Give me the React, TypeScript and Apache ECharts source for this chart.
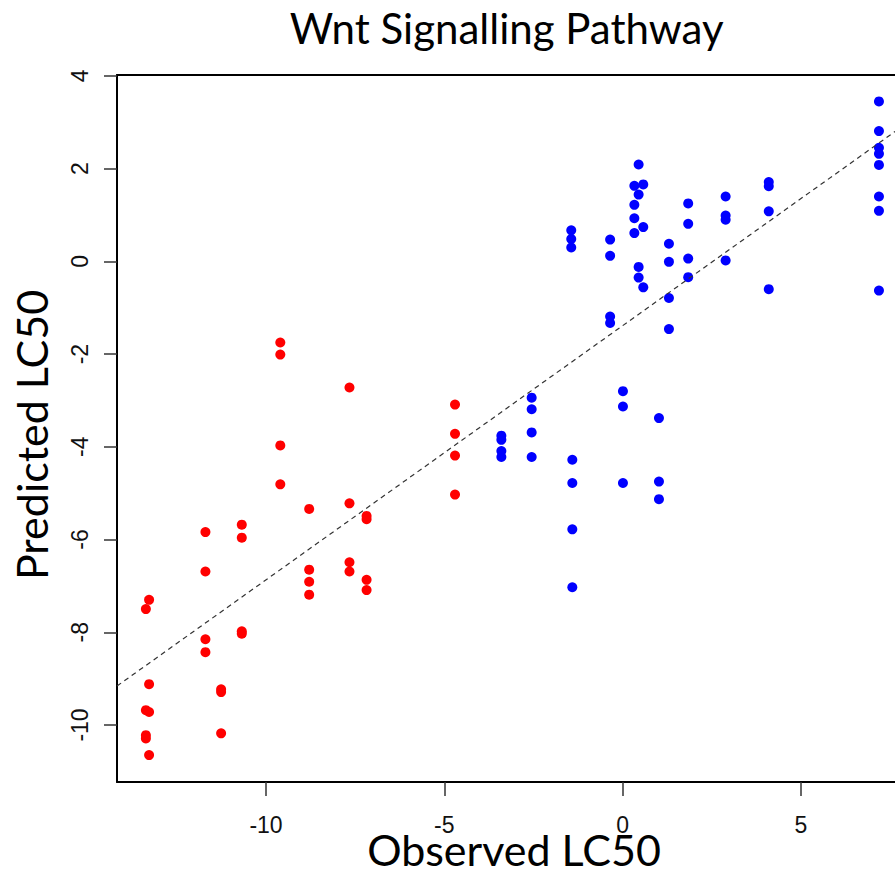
import React, { useEffect, useRef } from "react";
import * as echarts from "echarts";

// Observed (x) and predicted (y) LC50 values
const redX = [
  -13.28, -13.37, -13.28, -13.37, -13.28, -13.37, -13.37, -13.28,
  -11.70, -11.70, -11.70, -11.70,
  -11.26, -11.26, -11.26,
  -10.68, -10.68, -10.68, -10.68,
  -9.60, -9.60, -9.60, -9.60,
  -8.79, -8.79, -8.79, -8.79,
  -7.66, -7.66, -7.66, -7.66,
  -7.18, -7.18, -7.18, -7.18,
  -4.70, -4.70, -4.70, -4.70,
];
const redY = [
  -7.30, -7.50, -9.12, -9.68, -9.72, -10.22, -10.29, -10.65,
  -5.84, -6.69, -8.15, -8.43,
  -9.23, -9.29, -10.18,
  -5.68, -5.96, -7.98, -8.03,
  -1.75, -2.01, -3.97, -4.81,
  -5.34, -6.65, -6.91, -7.19,
  -2.72, -5.22, -6.49, -6.69,
  -5.49, -5.56, -6.87, -7.09,
  -3.09, -3.72, -4.19, -5.03,
];

const blueX = [
  -3.40, -3.40, -3.40, -3.40,
  -2.55, -2.55, -2.55, -2.55,
  -1.44, -1.44, -1.44, -1.41, -1.41, -1.41, -1.41,
  -0.35, -0.35, -0.35, -0.35,
  0.01, 0.01, 0.01,
  0.45, 0.45, 0.45, 0.45,
  0.33, 0.33, 0.33, 0.33,
  0.58, 0.58, 0.58,
  1.02, 1.02, 1.02,
  1.30, 1.30, 1.30, 1.30,
  1.84, 1.84, 1.84, 1.84,
  2.89, 2.89, 2.89, 2.89,
  4.10, 4.10, 4.10, 4.10,
  7.19, 7.19, 7.19, 7.19, 7.19, 7.19, 7.19, 7.19,
];
const blueY = [
  -3.76, -3.85, -4.09, -4.22,
  -2.94, -3.19, -3.69, -4.22,
  0.67, 0.48, 0.30, -4.28, -4.78, -5.78, -7.03,
  0.47, 0.12, -1.19, -1.33,
  -2.80, -3.13, -4.78,
  2.09, 1.44, -0.12, -0.35,
  1.63, 1.22, 0.93, 0.61,
  1.66, 0.74, -0.56,
  -3.38, -4.75, -5.13,
  0.38, -0.01, -0.79, -1.46,
  1.25, 0.81, 0.06, -0.34,
  1.40, 0.99, 0.90, 0.02,
  1.71, 1.62, 1.08, -0.60,
  3.45, 2.81, 2.45, 2.32, 2.08, 1.40, 1.09, -0.63,
];

// dashed fit line end points
const fitX = [-14.18, 7.64];
const fitY = [-9.16, 2.8];

const xTicks = [-10, -5, 0, 5];
const yTicks = [-10, -8, -6, -4, -2, 0, 2, 4];

const titleText = "Wnt Signalling Pathway";
const xTitle = "Observed LC50";
const yTitle = "Predicted LC50";

const X_MIN = -14.18;
const X_MAX = 7.64;
const Y_MIN = -11.23;
const Y_MAX = 4.02;

export default function App() {
  const ref = useRef<HTMLDivElement>(null);

  useEffect(() => {
    document.body.style.margin = "0";
    if (!ref.current) return;
    const chart = echarts.init(ref.current, undefined, { renderer: "svg" });

    const pair = (xs: number[], ys: number[]) => xs.map((x, i) => [x, ys[i]]);
    const bigFont = "Lato";
    const tickFont = "Liberation Sans";

    chart.setOption({
      animation: false,
      backgroundColor: "#ffffff",
      grid: { left: 117, right: 0, top: 75, bottom: 90, containLabel: false },
      xAxis: [
        {
          type: "value",
          min: X_MIN,
          max: X_MAX,
          axisLine: { show: true, onZero: false, lineStyle: { color: "#000", width: 2 } },
          axisTick: {
            show: true,
            customValues: xTicks,
            length: 14,
            lineStyle: { color: "#333", width: 1.5 },
          },
          axisLabel: {
            show: true,
            customValues: xTicks,
            fontFamily: tickFont,
            fontSize: 23,
            color: "#111",
            margin: 31,
          },
          splitLine: { show: false },
        },
        {
          type: "value",
          position: "top",
          min: X_MIN,
          max: X_MAX,
          axisLine: { show: true, onZero: false, lineStyle: { color: "#000", width: 2 } },
          axisTick: { show: false },
          axisLabel: { show: false },
          splitLine: { show: false },
        },
      ],
      yAxis: {
        type: "value",
        min: Y_MIN,
        max: Y_MAX,
        axisLine: { show: true, onZero: false, lineStyle: { color: "#000", width: 2 } },
        axisTick: {
          show: true,
          customValues: yTicks,
          length: 13,
          lineStyle: { color: "#333", width: 1.5 },
        },
        axisLabel: {
          show: true,
          customValues: yTicks,
          rotate: 90,
          fontFamily: tickFont,
          fontSize: 23,
          color: "#111",
          margin: 26,
        },
        splitLine: { show: false },
      },
      series: [
        {
          type: "scatter",
          data: pair(redX, redY),
          symbol: "circle",
          symbolSize: 10,
          itemStyle: { color: "#ff0000", opacity: 1 },
        },
        {
          type: "scatter",
          data: pair(blueX, blueY),
          symbol: "circle",
          symbolSize: 10,
          itemStyle: { color: "#0000ff", opacity: 1 },
        },
        {
          type: "line",
          data: pair(fitX, fitY),
          showSymbol: false,
          symbol: "none",
          lineStyle: { color: "#333", width: 1.2, type: [5, 4] },
          z: 3,
        },
      ],
      graphic: [
        {
          type: "text",
          x: 506.7,
          y: 27.5,
          style: {
            text: titleText,
            fill: "#000",
            fontFamily: bigFont,
            fontSize: 42,
            lineHeight: 34,
            textAlign: "center",
            textVerticalAlign: "middle",
          },
        },
        {
          type: "text",
          x: 514,
          y: 849,
          style: {
            text: xTitle,
            fill: "#000",
            fontFamily: bigFont,
            fontSize: 43,
            lineHeight: 34,
            textAlign: "center",
            textVerticalAlign: "middle",
          },
        },
        {
          type: "text",
          x: 31.7,
          y: 435,
          rotation: Math.PI / 2,
          style: {
            text: yTitle,
            fill: "#000",
            fontFamily: bigFont,
            fontSize: 43,
            lineHeight: 34,
            textAlign: "center",
            textVerticalAlign: "middle",
          },
        },
      ],
    });

    return () => chart.dispose();
  }, []);

  return <div ref={ref} style={{ width: 895, height: 872 }} />;
}
